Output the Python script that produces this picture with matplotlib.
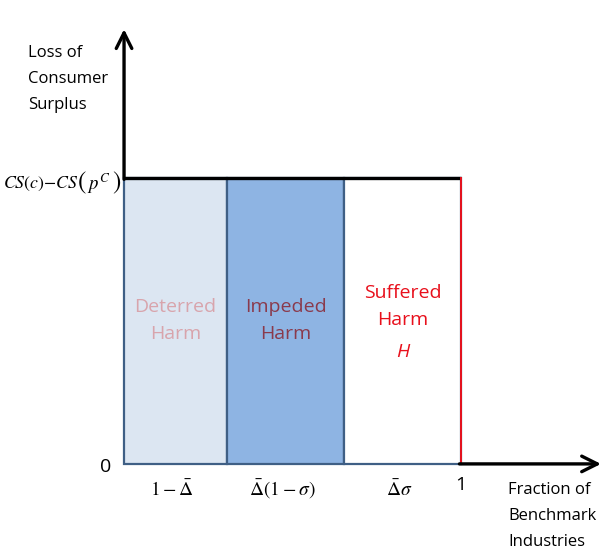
import matplotlib.pyplot as plt
from matplotlib.patches import Rectangle

plt.rcParams['mathtext.fontset'] = 'stix'
plt.rcParams['font.family'] = ['Open Sans', 'DejaVu Sans']

# segment widths (fractions of benchmark industries) and height (loss of CS)
seg_widths = [0.306, 0.347, 0.347]
seg_height = 1.0
seg_colors = ['#dce6f2', '#8eb4e3', '#ffffff']
seg_labels = ['Deterred\nHarm', 'Impeded\nHarm', 'Suffered\nHarm']
label_colors = ['#d8a4ac', '#8a3a4c', '#e8101c']
tick_labels = [r'$1-\bar{\Delta}$', r'$\bar{\Delta}(1-\sigma)$', r'$\bar{\Delta}\sigma$']

fig = plt.figure(figsize=(6.01, 5.54), dpi=100)
ax = fig.add_axes([0, 0, 1, 1])
ax.set_xlim(-0.368, 1.415)
ax.set_ylim(-0.315, 1.622)
ax.axis('off')

# stacked segments along x
left = 0.0
for i, (w, c, lab, lc, tl) in enumerate(zip(seg_widths, seg_colors, seg_labels,
                                            label_colors, tick_labels)):
    ax.add_patch(Rectangle((left, 0), w, seg_height, facecolor=c,
                           edgecolor='#3f5f85', lw=1.6, zorder=2))
    ty = 0.5 if i < 2 else 0.55
    ax.text(left + w / 2, ty, lab, ha='center', va='center', color=lc,
            fontsize=14, linespacing=1.65, zorder=3)
    ax.text(left + w / 2 - 0.01, -0.09, tl, ha='center', va='center',
            fontsize=14, zorder=3)
    left += w

# italic H under suffered harm
ax.text(left - seg_widths[-1] / 2, 0.39, 'H', ha='center', va='center',
        color=label_colors[-1], fontsize=14, style='italic', zorder=3)

# top line and red line at 1
ax.plot([0, 1], [seg_height, seg_height], color='black', lw=2.4, zorder=4,
        solid_capstyle='butt')
ax.plot([1, 1], [0, seg_height], color='#e8101c', lw=1.4, zorder=4)

# axes arrows
arrow = dict(arrowstyle='->', lw=2.4, color='black', mutation_scale=28,
             shrinkA=0, shrinkB=0)
ax.annotate('', xy=(0, 1.52), xytext=(0, seg_height - 0.005), arrowprops=arrow,
            zorder=5)
ax.annotate('', xy=(1.415, 0), xytext=(0.995, 0), arrowprops=arrow, zorder=5)

# axis labels
ax.text(-0.285, 1.346, 'Loss of\nConsumer\nSurplus', ha='left', va='center',
        fontsize=12, linespacing=1.85)
ax.text(1.14, -0.182, 'Fraction of\nBenchmark\nIndustries', ha='left',
        va='center', fontsize=12, linespacing=1.85)

# y value label: CS(c) - CS(p^C) with tall parentheses
cs_kw = dict(xycoords='data', textcoords='offset points', va='center')
ax.annotate(r'$CS(c){-}CS$', (0, seg_height), xytext=(-32.5, -4.3),
            ha='right', fontsize=12.8, **cs_kw)
ax.annotate('(', (0, seg_height), xytext=(-30, -3.6), ha='center',
            fontsize=18, family='STIXGeneral', **cs_kw)
ax.annotate(r'$p^{C}$', (0, seg_height), xytext=(-26.5, -4.3), ha='left',
            fontsize=13.5, **cs_kw)
ax.annotate(')', (0, seg_height), xytext=(-5.5, -3.6), ha='center',
            fontsize=18, family='STIXGeneral', **cs_kw)

ax.text(-0.055, -0.01, '0', ha='center', va='center', fontsize=14)
ax.text(1.0, -0.075, '1', ha='center', va='center', fontsize=14)

fig.savefig('out.png', dpi=100)
